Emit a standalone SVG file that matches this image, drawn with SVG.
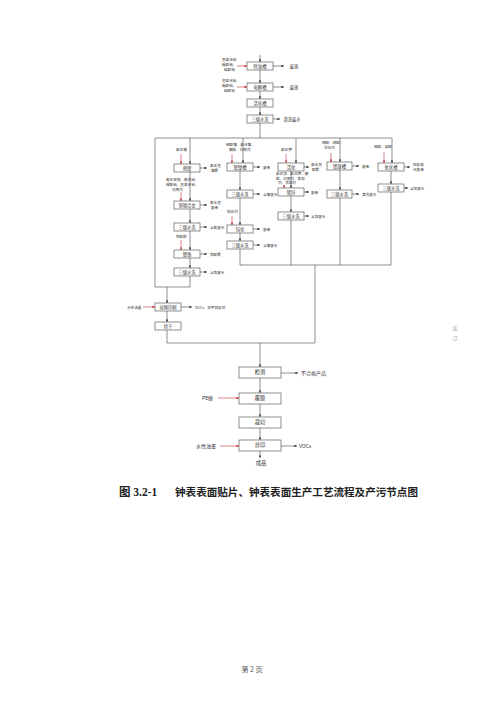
<svg xmlns="http://www.w3.org/2000/svg" width="500" height="707" viewBox="0 0 500 707">
<style>
  .bx { fill: #fff; stroke: #444; stroke-width: 0.6; }
  .ln { fill: none; stroke: #444; stroke-width: 0.6; }
  .rd { fill: none; stroke: #c8323a; stroke-width: 0.6; }
  .t { font-family: "Noto Sans CJK SC", "Liberation Sans", sans-serif; fill: #333; }
  .s { font-size: 3.6px; }
  .m { font-size: 4.3px; text-anchor: middle; }
  .b { font-size: 5.3px; text-anchor: middle; }
  .bs { font-size: 5px; }
</style>
<defs>
  <marker id="ah" viewBox="0 0 6 6" refX="6" refY="3" markerWidth="2.6" markerHeight="2.6" markerUnits="userSpaceOnUse" orient="auto"><path d="M0,0 L6,3 L0,6 z" fill="#333"/></marker>
  <marker id="ahr" viewBox="0 0 6 6" refX="6" refY="3" markerWidth="2.6" markerHeight="2.6" markerUnits="userSpaceOnUse" orient="auto"><path d="M0,0 L6,3 L0,6 z" fill="#c8323a"/></marker>
</defs>
<rect width="500" height="707" fill="#fff"/>

<g id="connectors">
  <!-- main top column -->
  <line class="ln" x1="260" y1="55" x2="260" y2="62" marker-end="url(#ah)"/>
  <line class="ln" x1="260" y1="70" x2="260" y2="83" marker-end="url(#ah)"/>
  <line class="ln" x1="260" y1="91" x2="260" y2="99" marker-end="url(#ah)"/>
  <line class="ln" x1="260" y1="107" x2="260" y2="115" marker-end="url(#ah)"/>
  <line class="ln" x1="260" y1="123" x2="260" y2="138"/>
  <line class="rd" x1="237" y1="66" x2="247" y2="66" marker-end="url(#ahr)"/>
  <line class="rd" x1="237" y1="87" x2="247" y2="87" marker-end="url(#ahr)"/>
  <line class="ln" x1="273" y1="66" x2="284" y2="66" marker-end="url(#ah)"/>
  <line class="ln" x1="273" y1="87" x2="284" y2="87" marker-end="url(#ah)"/>
  <line class="ln" x1="273" y1="119" x2="280" y2="119" marker-end="url(#ah)"/>
  <!-- distribution line -->
  <line class="ln" x1="155" y1="138" x2="392" y2="138"/>
  <!-- left bypass -->
  <polyline class="ln" points="155,138 155,287 190,287"/>
  <!-- column A -->
  <line class="ln" x1="190" y1="138" x2="190" y2="164" marker-end="url(#ah)"/>
  <line class="ln" x1="190" y1="172" x2="190" y2="201" marker-end="url(#ah)"/>
  <line class="ln" x1="190" y1="209" x2="190" y2="223" marker-end="url(#ah)"/>
  <line class="ln" x1="190" y1="231" x2="190" y2="250" marker-end="url(#ah)"/>
  <line class="ln" x1="190" y1="258" x2="190" y2="268" marker-end="url(#ah)"/>
  <line class="ln" x1="190" y1="276" x2="190" y2="287"/>
  <line class="rd" x1="181" y1="154" x2="181" y2="164" marker-end="url(#ahr)"/>
  <line class="rd" x1="181" y1="192" x2="181" y2="201" marker-end="url(#ahr)"/>
  <line class="rd" x1="181" y1="240" x2="181" y2="250" marker-end="url(#ahr)"/>
  <line class="ln" x1="200" y1="168" x2="207" y2="168" marker-end="url(#ah)"/>
  <line class="ln" x1="200" y1="205" x2="207" y2="205" marker-end="url(#ah)"/>
  <line class="ln" x1="200" y1="227" x2="207" y2="227" marker-end="url(#ah)"/>
  <line class="ln" x1="200" y1="254" x2="207" y2="254" marker-end="url(#ah)"/>
  <line class="ln" x1="200" y1="272" x2="207" y2="272" marker-end="url(#ah)"/>
  <!-- column B -->
  <line class="ln" x1="243" y1="138" x2="243" y2="163" marker-end="url(#ah)"/>
  <line class="ln" x1="240" y1="171" x2="240" y2="190" marker-end="url(#ah)"/>
  <line class="ln" x1="240" y1="198" x2="240" y2="225" marker-end="url(#ah)"/>
  <line class="ln" x1="240" y1="233" x2="240" y2="241" marker-end="url(#ah)"/>
  <line class="ln" x1="240" y1="249" x2="240" y2="265"/>
  <line class="rd" x1="232" y1="154" x2="232" y2="163" marker-end="url(#ahr)"/>
  <line class="rd" x1="232" y1="216" x2="232" y2="225" marker-end="url(#ahr)"/>
  <line class="ln" x1="253" y1="167" x2="260" y2="167" marker-end="url(#ah)"/>
  <line class="ln" x1="253" y1="194" x2="260" y2="194" marker-end="url(#ah)"/>
  <line class="ln" x1="253" y1="229" x2="260" y2="229" marker-end="url(#ah)"/>
  <line class="ln" x1="253" y1="245" x2="260" y2="245" marker-end="url(#ah)"/>
  <!-- column C -->
  <line class="ln" x1="296" y1="138" x2="296" y2="163" marker-end="url(#ah)"/>
  <line class="ln" x1="291" y1="171" x2="291" y2="188" marker-end="url(#ah)"/>
  <line class="ln" x1="291" y1="196" x2="291" y2="212" marker-end="url(#ah)"/>
  <line class="ln" x1="291" y1="220" x2="291" y2="265"/>
  <line class="rd" x1="286" y1="154" x2="286" y2="163" marker-end="url(#ahr)"/>
  <line class="rd" x1="284" y1="185" x2="284" y2="188" marker-end="url(#ahr)"/>
  <line class="ln" x1="304" y1="167" x2="309" y2="167" marker-end="url(#ah)"/>
  <line class="ln" x1="304" y1="192" x2="309" y2="192" marker-end="url(#ah)"/>
  <line class="ln" x1="304" y1="216" x2="309" y2="216" marker-end="url(#ah)"/>
  <!-- column D -->
  <line class="ln" x1="340" y1="138" x2="340" y2="162" marker-end="url(#ah)"/>
  <line class="ln" x1="340" y1="170" x2="340" y2="190" marker-end="url(#ah)"/>
  <line class="ln" x1="340" y1="198" x2="340" y2="265"/>
  <line class="rd" x1="331" y1="153" x2="331" y2="162" marker-end="url(#ahr)"/>
  <line class="ln" x1="352" y1="166" x2="359" y2="166" marker-end="url(#ah)"/>
  <line class="ln" x1="352" y1="194" x2="359" y2="194" marker-end="url(#ah)"/>
  <!-- column E -->
  <line class="ln" x1="392" y1="138" x2="392" y2="163" marker-end="url(#ah)"/>
  <line class="ln" x1="391" y1="171" x2="391" y2="184" marker-end="url(#ah)"/>
  <line class="ln" x1="391" y1="192" x2="391" y2="265"/>
  <line class="rd" x1="384" y1="152" x2="384" y2="163" marker-end="url(#ahr)"/>
  <line class="ln" x1="404" y1="167" x2="410" y2="167" marker-end="url(#ah)"/>
  <line class="ln" x1="404" y1="188" x2="408" y2="188" marker-end="url(#ah)"/>
  <!-- collector -->
  <line class="ln" x1="240" y1="265" x2="391" y2="265"/>
  <line class="ln" x1="315" y1="265" x2="315" y2="343"/>
  <!-- printing branch -->
  <line class="ln" x1="167" y1="287" x2="167" y2="303" marker-end="url(#ah)"/>
  <line class="rd" x1="143" y1="307" x2="155" y2="307" marker-end="url(#ahr)"/>
  <line class="ln" x1="181" y1="307" x2="192" y2="307" marker-end="url(#ah)"/>
  <line class="ln" x1="167" y1="311" x2="167" y2="322" marker-end="url(#ah)"/>
  <polyline class="ln" points="167,330 167,343 315,343"/>
  <!-- bottom column -->
  <line class="ln" x1="260" y1="343" x2="260" y2="367" marker-end="url(#ah)"/>
  <line class="ln" x1="281" y1="373" x2="298" y2="373" marker-end="url(#ah)"/>
  <line class="ln" x1="260" y1="378" x2="260" y2="393" marker-end="url(#ah)"/>
  <line class="rd" x1="218" y1="398" x2="239" y2="398" marker-end="url(#ahr)"/>
  <line class="ln" x1="260" y1="404" x2="260" y2="417" marker-end="url(#ah)"/>
  <line class="ln" x1="260" y1="428" x2="260" y2="440" marker-end="url(#ah)"/>
  <line class="rd" x1="220" y1="446" x2="239" y2="446" marker-end="url(#ahr)"/>
  <line class="ln" x1="281" y1="446" x2="297" y2="446" marker-end="url(#ah)"/>
  <line class="ln" x1="260" y1="451" x2="260" y2="458" marker-end="url(#ah)"/>
</g>

<!-- top column -->
<g id="n-chuyou">
  <rect class="bx" x="247" y="62" width="26" height="8"/>
  <text class="t m" x="260" y="67.6">除油槽</text>
  <text class="t s" x="222" y="61">氢氧化钠</text>
  <text class="t s" x="222" y="66">碳酸钠、</text>
  <text class="t s" x="224" y="71">硅酸钠</text>
  <text class="t m" x="294" y="67.5">废液</text>
</g>
<g id="n-dianjie">
  <rect class="bx" x="247" y="83" width="26" height="8"/>
  <text class="t m" x="260" y="88.6">电解槽</text>
  <text class="t s" x="222" y="82">氢氧化钠</text>
  <text class="t s" x="222" y="87">碳酸钠、</text>
  <text class="t s" x="224" y="92">硅酸钠</text>
  <text class="t m" x="294" y="88.5">废液</text>
</g>
<g id="n-huohua">
  <rect class="bx" x="247" y="99" width="26" height="8"/>
  <text class="t m" x="260" y="104.6">活化槽</text>
</g>
<g id="n-shuixi0">
  <rect class="bx" x="247" y="115" width="26" height="8"/>
  <text class="t m" x="260" y="120.6">三级水洗</text>
  <text class="t m" x="292" y="120.5">清洗废水</text>
</g>

<!-- column A -->
<g id="n-a1">
  <text class="t s" x="176" y="151">氯化镍</text>
  <rect class="bx" x="174" y="164" width="26" height="8"/>
  <text class="t m" x="187" y="169.6">预镀</text>
  <text class="t s" x="210" y="167">氯化氢</text>
  <text class="t s" x="211" y="172">镍雾</text>
</g>
<g id="n-a2">
  <text class="t s" x="166" y="181">氰化亚铜、氰化钠、</text>
  <text class="t s" x="166" y="186">锡酸钠、氢氧化钠、</text>
  <text class="t s" x="172" y="191">光亮剂</text>
  <rect class="bx" x="174" y="201" width="26" height="8"/>
  <text class="t m" x="187" y="206.6">铜锡合金</text>
  <text class="t s" x="210" y="204">氰化氢</text>
  <text class="t s" x="211" y="209">废液</text>
</g>
<g id="n-a3">
  <rect class="bx" x="174" y="223" width="26" height="8"/>
  <text class="t m" x="187" y="228.6">三级水洗</text>
  <text class="t s" x="210" y="228.5">含氰废水</text>
</g>
<g id="n-a4">
  <text class="t s" x="176" y="238">铬酸酐</text>
  <rect class="bx" x="174" y="250" width="26" height="8"/>
  <text class="t m" x="187" y="255.6">镀铬</text>
  <text class="t s" x="210" y="255.5">铬酸雾</text>
</g>
<g id="n-a5">
  <rect class="bx" x="174" y="268" width="26" height="8"/>
  <text class="t m" x="187" y="273.6">三级水洗</text>
  <text class="t s" x="210" y="273.5">含铬废水</text>
</g>

<!-- column B -->
<g id="n-b1">
  <text class="t s" x="226" y="146">硫酸镍、氯化镍、</text>
  <text class="t s" x="229" y="151">硼酸、光亮剂</text>
  <rect class="bx" x="227" y="163" width="26" height="8"/>
  <text class="t m" x="240" y="168.6">镀镍槽</text>
  <text class="t s" x="263" y="168.5">废液</text>
</g>
<g id="n-b2">
  <rect class="bx" x="227" y="190" width="26" height="8"/>
  <text class="t m" x="240" y="195.6">三级水洗</text>
  <text class="t s" x="263" y="195.5">含镍废水</text>
</g>
<g id="n-b3">
  <text class="t s" x="227" y="213">钝化剂</text>
  <rect class="bx" x="227" y="225" width="26" height="8"/>
  <text class="t m" x="240" y="230.6">钝化</text>
  <text class="t s" x="263" y="230.5">废液</text>
</g>
<g id="n-b4">
  <rect class="bx" x="227" y="241" width="26" height="8"/>
  <text class="t m" x="240" y="246.6">三级水洗</text>
  <text class="t s" x="263" y="246.5">含镍废水</text>
</g>

<!-- column C -->
<g id="n-c1">
  <text class="t s" x="281" y="151">氯化钾</text>
  <rect class="bx" x="278" y="163" width="26" height="8"/>
  <text class="t m" x="291" y="168.6">活化</text>
  <text class="t s" x="311" y="166">氯化氢</text>
  <text class="t s" x="312" y="171">酸雾</text>
</g>
<g id="n-c2">
  <text class="t s" x="276" y="175">氯化锌、氯化钾、硼</text>
  <text class="t s" x="276" y="179.5">酸、光亮剂、柔软</text>
  <text class="t s" x="278" y="184">剂、添加剂</text>
  <rect class="bx" x="278" y="188" width="26" height="8"/>
  <text class="t m" x="291" y="193.6">镀锌</text>
  <text class="t s" x="311" y="193.5">废液</text>
</g>
<g id="n-c3">
  <rect class="bx" x="278" y="212" width="26" height="8"/>
  <text class="t m" x="291" y="217.6">三级水洗</text>
  <text class="t s" x="311" y="217.5">含锌废水</text>
</g>

<!-- column D -->
<g id="n-d1">
  <text class="t s" x="322" y="144">硫酸、硝酸、</text>
  <text class="t s" x="324" y="149">活化剂</text>
  <rect class="bx" x="327" y="162" width="25" height="8"/>
  <text class="t m" x="339.5" y="167.6">镀银槽</text>
  <text class="t s" x="362" y="167.5">废液</text>
</g>
<g id="n-d2">
  <rect class="bx" x="327" y="190" width="25" height="8"/>
  <text class="t m" x="339.5" y="195.6">三级水洗</text>
  <text class="t s" x="362" y="195.5">清洗废水</text>
</g>

<!-- column E -->
<g id="n-e1">
  <text class="t s" x="374" y="148">硫酸、草酸</text>
  <rect class="bx" x="378" y="163" width="26" height="8"/>
  <text class="t m" x="391" y="168.6">氧化槽</text>
  <text class="t s" x="413" y="166">阳极氧</text>
  <text class="t s" x="413" y="171">化废液</text>
</g>
<g id="n-e2">
  <rect class="bx" x="378" y="184" width="26" height="8"/>
  <text class="t m" x="391" y="189.6">三级水洗</text>
  <text class="t s" x="410" y="189.5">含铝废水</text>
</g>

<!-- printing branch -->
<g id="n-print1">
  <text class="t s" x="127" y="308.5">水性油墨</text>
  <rect class="bx" x="155" y="303" width="26" height="8"/>
  <text class="t m" x="168" y="308.6">丝网印刷</text>
  <text class="t s" x="195" y="308.5">VOCs、非甲烷总烃</text>
</g>
<g id="n-print2">
  <rect class="bx" x="155" y="322" width="26" height="8"/>
  <text class="t m" x="168" y="327.6">烘干</text>
</g>

<!-- bottom column -->
<g id="n-jiance">
  <rect class="bx" x="239" y="367" width="42" height="11"/>
  <text class="t b" x="260" y="374.4">检测</text>
  <text class="t bs" x="301" y="374.8">不合格产品</text>
</g>
<g id="n-fumo">
  <rect class="bx" x="239" y="393" width="42" height="11"/>
  <text class="t b" x="260" y="400.4">覆膜</text>
  <text class="t bs" x="202" y="399.8">PE膜</text>
</g>
<g id="n-caiqie">
  <rect class="bx" x="239" y="417" width="42" height="11"/>
  <text class="t b" x="260" y="424.4">裁切</text>
</g>
<g id="n-siyin">
  <rect class="bx" x="239" y="440" width="42" height="11"/>
  <text class="t b" x="260" y="447.4">丝印</text>
  <text class="t bs" x="196" y="447.8">水性油墨</text>
  <text class="t bs" x="299" y="447.8">VOCs</text>
</g>
<g id="n-chengpin">
  <text class="t b" x="261" y="465">成品</text>
</g>

<!-- caption -->
<text x="119" y="496" font-family="Liberation Serif, 'Noto Sans CJK SC', serif" font-weight="bold" font-size="11.5" fill="#222">图 3.2-1</text>
<text x="175" y="496" font-family="'Noto Sans CJK SC', sans-serif" font-weight="bold" font-size="10.5" fill="#222" textLength="243" lengthAdjust="spacingAndGlyphs">钟表表面贴片、钟表表面生产工艺流程及产污节点图</text>

<!-- page number -->
<text x="252" y="672" font-family="'Noto Sans CJK SC', sans-serif" font-size="7" fill="#555" text-anchor="middle">第 2 页</text>

<!-- margin mark -->
<text x="455" y="330" font-family="'Noto Sans CJK SC', sans-serif" font-size="5" fill="#aaa" text-anchor="middle">装</text>
<text x="455" y="340" font-family="'Noto Sans CJK SC', sans-serif" font-size="5" fill="#aaa" text-anchor="middle">订</text>
</svg>
